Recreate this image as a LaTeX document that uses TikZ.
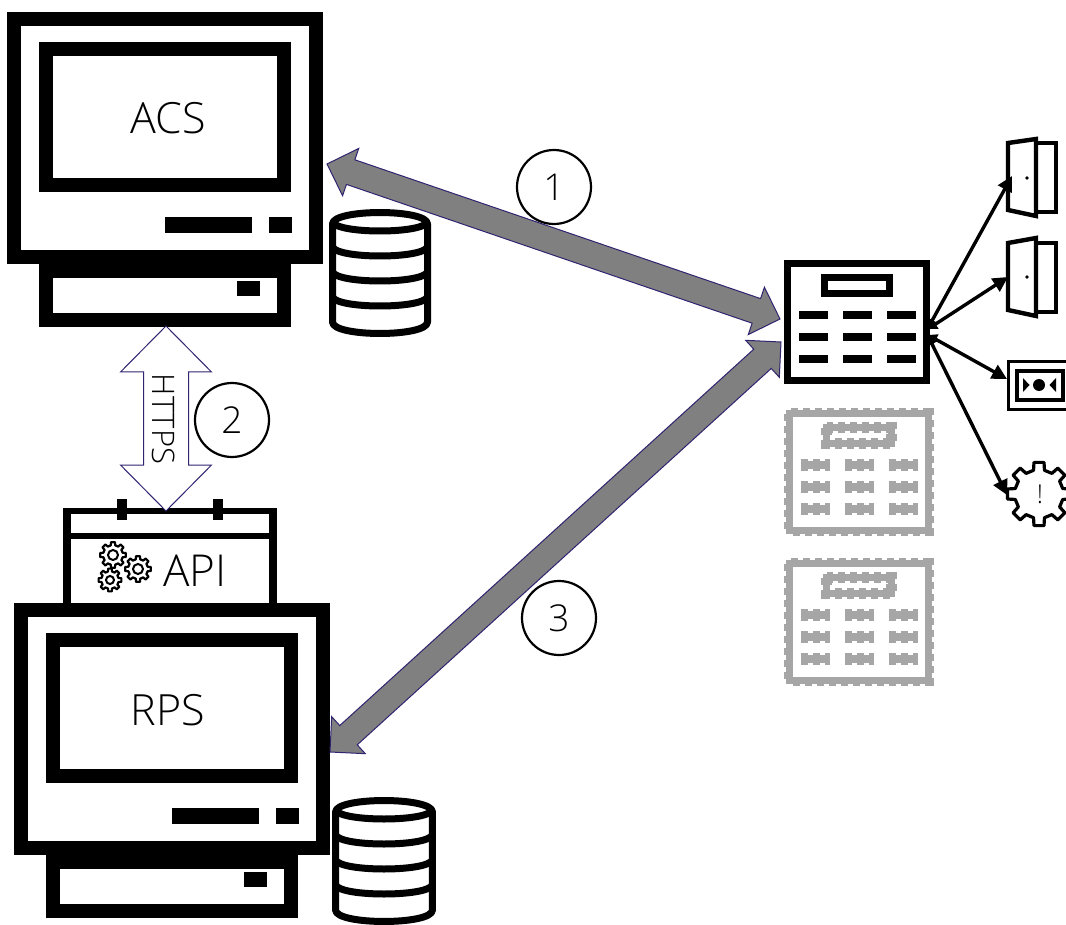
\documentclass[tikz,border=0pt]{standalone}
\usepackage{fontspec}
\setmainfont{Open Sans}[UprightFont=* Light]
\usetikzlibrary{arrows.meta,calc}
\definecolor{arrowgray}{HTML}{808080}
\definecolor{arrowline}{HTML}{2F2470}
\definecolor{ghost}{HTML}{A6A6A6}
\tikzset{
  x=1pt,y=-1pt,
  every node/.style={font=\fontsize{43}{46}\selectfont,inner sep=0pt,outer sep=0pt},
  badge/.style={circle,draw=black,line width=2.2pt,fill=white,minimum size=74pt,font=\fontsize{37}{40}\selectfont},
  linkgray/.style={draw=arrowline,line width=1pt,fill=arrowgray,line join=miter},
  linkwhite/.style={draw=arrowline,line width=1pt,fill=white,line join=miter},
  wire/.style={draw=black,line width=3.4pt,{Triangle[length=9pt,width=11pt]}-{Triangle[length=15pt,width=15pt]}},
  devline/.style={draw=black,line width=4.4pt,fill=white,line join=miter},
  ghostline/.style={draw=ghost,preaction={draw=ghost,dash pattern=on 7pt off 5pt,line width=\pgflinewidth+1.6pt}},
  realline/.style={draw=black},
}
% double-headed block arrow between two named coordinates: #1 style, #2 #3 ends, #4 half shaft, #5 half head, #6 head length
\newcommand{\blockarrow}[6]{%
  \draw[#1] (#2)
    -- ($(#2)!#6!(#3)!#5!90:(#3)$)
    -- ($(#2)!#6!(#3)!#4!90:(#3)$)
    -- ($(#3)!#6!(#2)!#4!-90:(#2)$)
    -- ($(#3)!#6!(#2)!#5!-90:(#2)$)
    -- (#3)
    -- ($(#3)!#6!(#2)!#5!90:(#2)$)
    -- ($(#3)!#6!(#2)!#4!90:(#2)$)
    -- ($(#2)!#6!(#3)!#4!-90:(#3)$)
    -- ($(#2)!#6!(#3)!#5!-90:(#3)$)
    -- cycle;}
\newcommand{\computer}[3]{%
  \begin{scope}[shift={(#1,#2)}]
    \draw[draw=black,line width=14pt,fill=white] (46,271) rectangle (284,320);
    \node[draw=black,line width=14pt,fill=white,minimum width=302pt,minimum height=238pt] (#3) at (165,138) {};
    \node[draw=black,line width=14pt,fill=white,minimum width=238pt,minimum height=136pt] (#3screen) at (165,117) {};
    \fill (165,217) rectangle (252,233);
    \fill (269,217) rectangle (292,233);
    \fill (237,281) rectangle (260,296);
  \end{scope}}
\newcommand{\database}[4]{%
  \begin{scope}[shift={(#1,#2)},xscale=#3]
    \draw[line width=7pt,fill=white,line join=round] (332.5,224) .. controls (332.5,208.7) and (427.5,208.7) .. (427.5,224)
      -- (427.5,322) .. controls (427.5,337.3) and (332.5,337.3) .. (332.5,322) -- cycle;
    \foreach \yy in {222,247,272,297}
      \draw[line width=7pt] (332.5,\yy) .. controls (338,\yy+12) and (422,\yy+12) .. (427.5,\yy);
  \end{scope}
  \coordinate (#4) at (#1+380,#2+270);}
\newcommand{\keypad}[4]{%
  \begin{scope}[shift={(#1,#2)}]
    \draw[#3,line width=7pt,fill=white] (787.5,263.5) rectangle (926.5,380.5);
    \draw[#3,line width=7pt] (824.5,277.5) rectangle (889.5,293.5);
    \foreach \xx in {799,843,887}
      \foreach \yy in {315,337,359}
        \draw[#3,line width=8pt] (\xx,\yy) -- (\xx+29,\yy);
  \end{scope}
  \coordinate (#4) at (#1+857,#2+322);}
\newcommand{\cog}[4][2.2pt]{%
  \begin{scope}[shift={(#2,#3)}]
  \draw[line width=#1,line join=round,fill=white]
    (-13:#4*0.76)
    \foreach \k in {0,...,7} {
      -- ({45*\k-13}:#4*0.76) -- ({45*\k-9}:#4) -- ({45*\k+9}:#4) -- ({45*\k+13}:#4*0.76)
    } -- cycle;
  \end{scope}}
\begin{document}
\begin{tikzpicture}
\useasboundingbox (0,0) rectangle (1066,925);
\clip (0,0) rectangle (1066,925);

% API box
\fill[white] (63,508) rectangle (277,605);
\draw[line width=8pt] (67,508) -- (67,605);
\draw[line width=8pt] (273,508) -- (273,605);
\draw[line width=6pt] (63,511) -- (277,511);
\draw[line width=6pt] (63,536) -- (277,536);
\fill (117,499) rectangle (127,520);
\fill (213,499) rectangle (223,520);
\node[font=\fontsize{44}{46}\selectfont] (api) at (195,571) {API};
\cog{113}{555}{13}
\cog{138}{569}{13}
\cog{110}{580}{11.5}
\draw[line width=2pt] (113,555) circle (5) (138,569) circle (5) (110,580) circle (4);

\computer{0}{0}{acs}
\computer{7}{591}{rps}
\node (acslabel) at (168,118) {ACS};
\node (rpslabel) at (168,710) {RPS};
\database{0}{0}{1}{dbA}
\database{-3.6}{588}{1.02}{dbB}

\keypad{2}{150}{ghostline}{ctlb}
\keypad{2}{300}{ghostline}{ctlc}
\keypad{0}{0}{realline}{ctl}

% devices
\draw[devline] (1035,143) rectangle (1056,212);
\draw[devline] (1008,143) -- (1036,139) -- (1036,216) -- (1008,210) -- cycle;
\fill (1027,178) circle (1.8);
\draw[devline] (1035,243) rectangle (1056,312);
\draw[devline] (1008,243) -- (1036,238) -- (1036,316) -- (1008,310) -- cycle;
\fill (1027,277) circle (1.8);
\node[draw=black,line width=2.5pt,minimum width=62pt,minimum height=48pt,anchor=north west,fill=white] (sensor) at (1008.5,361.5) {};
\draw[devline] (1017,371) rectangle (1063,400);
\fill (1039,385) circle (6);
\fill (1023,378) -- (1029.5,385) -- (1023,392) -- cycle;
\fill (1056,378) -- (1049.5,385) -- (1056,392) -- cycle;
\cog[3.2pt]{1039}{494}{32}
\node[font=\fontsize{26}{28}\selectfont] (alarm) at (1040,494) {!};

% wires
\coordinate (w1) at (928,328);
\coordinate (w2) at (928,329);
\coordinate (w3) at (928,335);
\coordinate (w4) at (928,336);
\coordinate (d1) at (1012,176);
\coordinate (d2) at (1008,277);
\coordinate (d3) at (1007,379);
\coordinate (d4) at (1007,495);
\draw[wire] (w1) -- (d1);
\draw[wire] (w2) -- (d2);
\draw[wire] (w3) -- (d3);
\draw[wire] (w4) -- (d4);

% big links
\coordinate (a1) at (327,164);
\coordinate (a2) at (780,319);
\coordinate (b1) at (330,752);
\coordinate (b2) at (781,342);
\coordinate (c1) at (166,326);
\coordinate (c2) at (166,511);
\blockarrow{linkgray}{a1}{a2}{13pt}{25pt}{25pt}
\blockarrow{linkgray}{b1}{b2}{13pt}{25pt}{25pt}
\blockarrow{linkwhite}{c1}{c2}{22.5pt}{45.5pt}{46pt}
\node[rotate=-90,font=\fontsize{31}{33}\selectfont] (https) at (164,419) {HTTPS};
\node[badge] (n1) at (554,187) {1};
\node[badge] (n2) at (232,420) {2};
\node[badge] (n3) at (559,618) {3};
\end{tikzpicture}
\end{document}
